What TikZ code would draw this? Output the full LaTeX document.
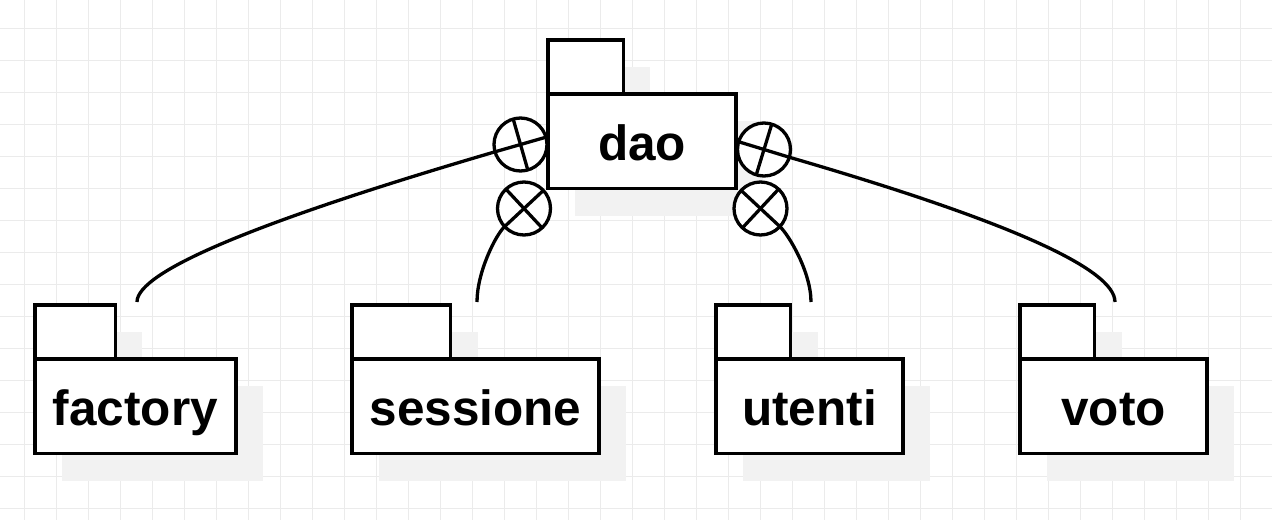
\documentclass[tikz,border=0pt]{standalone}
\usepackage{fontspec}
\setmainfont{Liberation Sans}
\usetikzlibrary{calc}
\tikzset{
  gridline/.style={draw=black!8, line width=1pt},
  shadowfill/.style={fill=black!5},
  tabbox/.style={draw=black, fill=white, line width=3.3pt, inner sep=0pt, outer sep=0pt, anchor=north west},
  pkgbody/.style={draw=black, fill=white, line width=3.3pt, inner sep=0pt, outer sep=0pt, anchor=north west,
    font=\bfseries\fontsize{49.5}{59}\selectfont, text height=38pt, text depth=0pt},
  markerc/.style={circle, draw=black, fill=white, line width=3.3pt, minimum size=53pt, inner sep=0pt, outer sep=0pt},
  markbar/.style={draw=black, line width=3.3pt},
  edgeline/.style={draw=black, line width=3.3pt},
}
% name, left, top, width, label
\newcommand\pkgshape[5]{%
  \fill[shadowfill] (#2+27,#3+27) rectangle ++(0.4*#4,54);
  \fill[shadowfill] (#2+27,#3+81) rectangle ++(#4,94.5);
  \node[tabbox, minimum width=0.4*#4, minimum height=54] (#1-tab) at (#2,#3) {};
  \node[pkgbody, minimum width=#4, minimum height=94.5] (#1) at (#2,#3+54) {#5};
  \coordinate (#1-s) at ($(#1.north |- #1-tab.north)+(1.5,-3)$);
}
\begin{document}
\begin{tikzpicture}[x=1pt,y=-1pt]
\useasboundingbox (0,0) rectangle (1272,520);
\fill[white] (0,0) rectangle (1272,520);
\foreach \x in {24,56,...,1272} \draw[gridline] (\x,0) -- (\x,520);
\foreach \y in {28,60,...,520} \draw[gridline] (0,\y) -- (1272,\y);

\pkgshape{dao}{548}{40}{188}{dao}
\pkgshape{factory}{35}{305}{201}{factory}
\pkgshape{sessione}{352}{305}{247}{sessione}
\pkgshape{utenti}{716}{305}{187}{utenti}
\pkgshape{voto}{1020}{305}{187}{voto}

% markers
\node[markerc] (m1) at (520.5,144.5) {};
\node[markerc] (m2) at (524,208.5) {};
\node[markerc] (m3) at (760.5,208.5) {};
\node[markerc] (m4) at (764,149.5) {};

\draw[markbar] (m1.196.3) -- (m1.16.3);
\draw[markbar] (m1.106.3) -- (m1.286.3);
\draw[markbar] (m2.223) -- (m2.43);
\draw[markbar] (m2.133) -- (m2.313);
\draw[markbar] (m3.317) -- (m3.137);
\draw[markbar] (m3.47) -- (m3.227);
\draw[markbar] (m4.343.7) -- (m4.163.7);
\draw[markbar] (m4.73.7) -- (m4.253.7);

% connectors
\draw[edgeline] (factory-s) .. controls (137,271.5) and (257,221.5) .. (m1.196.3);
\draw[edgeline] (sessione-s) .. controls (477,272) and (495.8,234.8) .. (m2.223);
\draw[edgeline] (utenti-s) .. controls (811,272) and (788.7,234.8) .. (m3.317);
\draw[edgeline] (voto-s) .. controls (1115,268.7) and (1006.5,220.4) .. (m4.343.7);
\end{tikzpicture}
\end{document}
